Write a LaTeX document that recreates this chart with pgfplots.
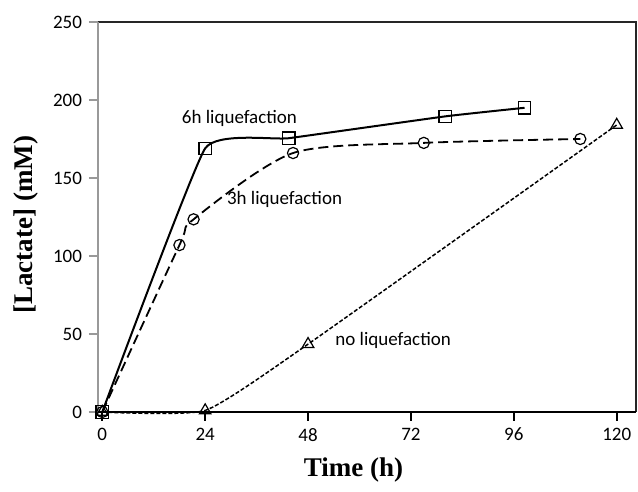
\documentclass[border=0pt]{standalone}
\usepackage{pgfplots}
\pgfplotsset{compat=1.18}
\usepackage{fontspec}
\setmainfont{Carlito}
\newfontfamily\timesfont{Liberation Serif}

\begin{document}
\begin{tikzpicture}
\useasboundingbox (-49pt,-40pt) rectangle (270pt,206pt);
\begin{axis}[
  scale only axis, width=269pt, height=195pt,
  xmin=-1, xmax=124.5, ymin=0, ymax=250,
  xtick={0,24,48,72,96,120}, ytick={0,50,...,250},
  tick pos=left, tick align=outside, major tick length=4.5pt,
  axis line style={draw=none},
  xtick style={black, line width=0.8pt},
  ytick style={gray!80, line width=0.8pt},
  tick label style={font=\fontsize{9.5}{10}\selectfont},
  /pgf/number format/assume math mode=true,
  xlabel={Time (h)}, ylabel={[Lactate] (mM)},
  every axis x label/.style={at={(rel axis cs:0.475,0)}, yshift=-29pt, anchor=center,
    font=\timesfont\bfseries\fontsize{13.5}{14}\selectfont},
  every axis y label/.style={at={(rel axis cs:0,0.48)}, xshift=-36pt, rotate=90, anchor=center,
    font=\timesfont\bfseries\fontsize{13.5}{14}\selectfont},
  clip=false,
]
% frame: grey value axis, black time axis and plot-area border
\draw[black!85, line width=0.7pt] (rel axis cs:0,1) -- (rel axis cs:1,1) -- (rel axis cs:1,0);
\draw[black, line width=1.1pt] (rel axis cs:0,0) -- (rel axis cs:1,0);
\draw[gray!80, line width=0.8pt] (rel axis cs:0,0) -- (rel axis cs:0,1);

% 6h liquefaction
\addplot[black, line width=1pt, smooth, tension=0.22, mark=square, mark size=3.1pt,
  mark options={solid, line width=0.6pt}]
  coordinates {(0,0) (24,169) (43.5,175.5) (80,189.5) (98.5,195)};
% 3h liquefaction
\addplot[black, line width=0.9pt, dash pattern=on 5pt off 2.5pt, smooth, tension=0.45,
  mark=o, mark size=2.8pt, mark options={solid, line width=0.6pt}]
  coordinates {(0,0) (18,107) (21.3,123.5) (44.5,166) (75,172.5) (111.5,175)};
% no liquefaction
\addplot[black, line width=0.75pt, dash pattern=on 2pt off 1pt, smooth, tension=0.3,
  mark=triangle, mark size=3.3pt, mark options={solid, line width=0.6pt}]
  coordinates {(0,0) (24,1) (48,43.5) (120,184)};

\node[font=\fontsize{9.5}{10}\selectfont, anchor=center] at (axis cs:32,188) {6h liquefaction};
\node[font=\fontsize{9.5}{10}\selectfont, anchor=west, inner sep=0pt] at (axis cs:29,136) {3h liquefaction};
\node[font=\fontsize{9.5}{10}\selectfont, anchor=west, inner sep=0pt] at (axis cs:54.3,46) {no liquefaction};
\end{axis}
\end{tikzpicture}
\end{document}
